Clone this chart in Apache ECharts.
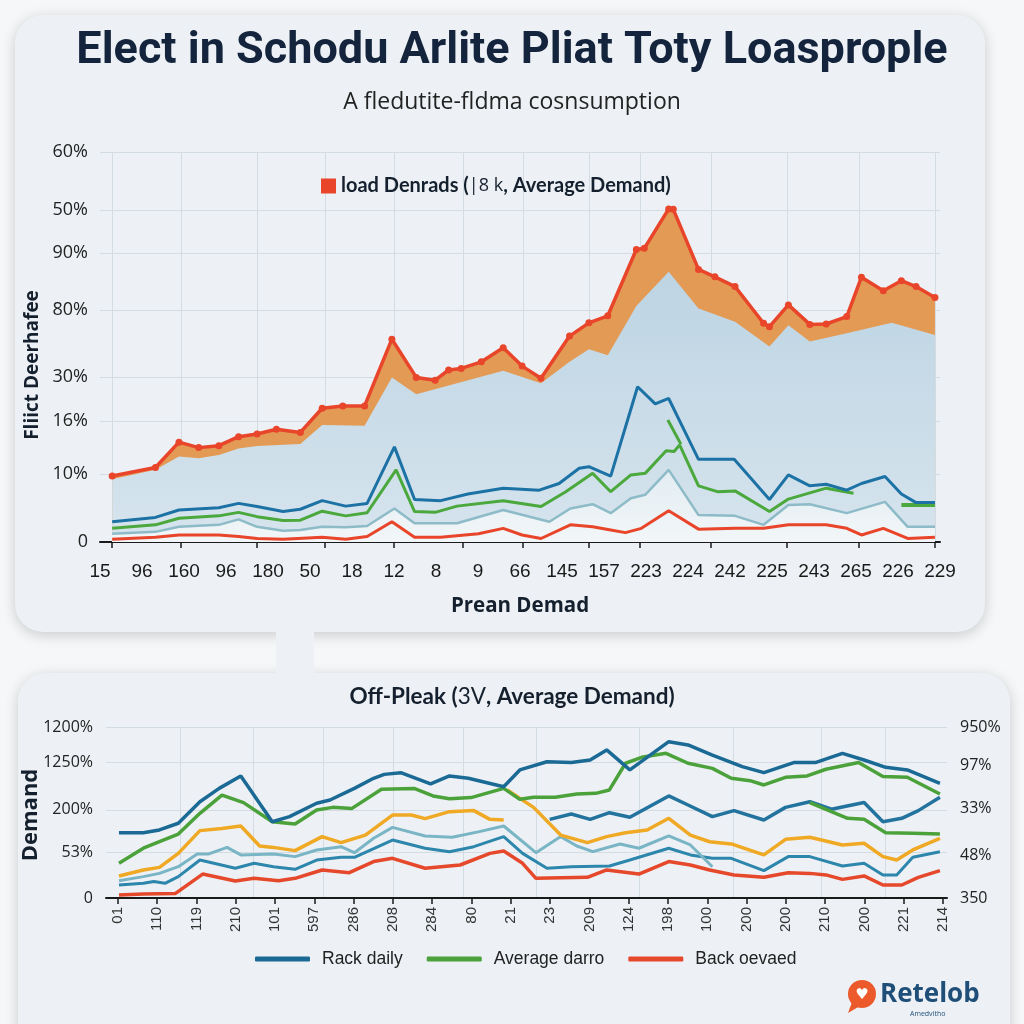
<!DOCTYPE html>
<html><head><meta charset="utf-8">
<script src="https://cdn.jsdelivr.net/npm/echarts@6/dist/echarts.min.js"></script>
<style>html,body{margin:0;padding:0;background:#f6f7f9}#c{width:1024px;height:1024px}</style>
</head><body><div id="c"></div>
<script>
// ---------- TOP CHART DATA ----------
const topCategories = ['15','96','160','96','180','50','18','12','8','9','66','145','157','223','224','242','225','243','265','226','229'];
const topYTickLabels = ['0','10%','16%','30%','80%','90%','50%','60%'];
const topYTickValues = [0, 17.4, 31.0, 42.3, 59.5, 74.1, 85.1, 100];
const topGridX = [0.29, 1.93, 3.74, 5.36, 7.0, 8.64, 10.07, 11.64, 12.86, 14.55, 16.36, 18.07, 19.88];

const topPeakLoad = [[0.29,16.9],[1.32,19.1],[1.88,25.6],[2.35,24.2],[2.83,24.7],[3.30,27.0],[3.74,27.7],[4.20,28.9],[4.77,28.1],[5.29,34.3],[5.78,34.9],[6.30,34.9],[6.95,52.0],[7.53,42.2],[7.98,41.5],[8.30,44.1],[8.60,44.5],[9.08,46.2],[9.60,49.8],[10.05,45.1],[10.50,42.0],[11.18,52.8],[11.64,56.2],[12.09,58.0],[12.77,75.0],[12.96,75.3],[13.54,85.4],[13.65,85.3],[14.25,69.9],[14.64,68.0],[15.12,65.5],[15.80,56.1],[15.94,55.2],[16.39,60.8],[16.90,55.8],[17.29,55.9],[17.78,57.8],[18.13,67.9],[18.65,64.4],[19.08,67.0],[19.43,65.5],[19.88,62.7]];
const topBaseArea = [[0.29,16.1],[1.32,18.5],[1.88,21.9],[2.35,21.5],[2.83,22.3],[3.30,24.0],[3.74,24.6],[4.77,25.1],[5.29,30.0],[6.30,29.8],[6.95,42.2],[7.53,37.9],[9.60,43.9],[10.50,40.7],[11.18,46.2],[11.64,49.4],[12.09,47.9],[12.77,60.5],[13.54,69.3],[14.25,59.9],[15.12,56.5],[15.94,50.1],[16.39,55.6],[16.90,51.4],[17.78,53.5],[18.85,56.2],[19.88,53.1]];
const topBlue = [[0.29,5.2],[1.32,6.3],[1.88,8.2],[2.83,8.8],[3.30,9.9],[3.74,9.1],[4.36,7.8],[4.77,8.4],[5.29,10.6],[5.85,9.2],[6.36,9.9],[7.01,24.4],[7.49,10.9],[8.11,10.6],[8.76,12.3],[9.60,13.8],[10.46,13.3],[10.93,15.0],[11.41,18.9],[11.64,19.3],[12.16,16.9],[12.80,39.8],[13.22,35.4],[13.54,36.8],[14.25,21.2],[15.10,21.2],[15.94,10.9],[16.39,17.2],[16.90,14.4],[17.29,14.8],[17.78,13.3],[18.13,15.0],[18.69,16.8],[19.08,12.3],[19.43,10.1],[19.88,10.1]];
const topGreen = [[0.29,3.5],[1.32,4.4],[1.88,6.1],[2.83,6.7],[3.30,7.6],[3.74,6.5],[4.36,5.5],[4.77,5.6],[5.29,7.9],[5.85,6.7],[6.36,7.5],[7.05,18.5],[7.49,7.8],[7.98,7.6],[8.50,9.2],[9.60,10.6],[10.50,9.1],[11.09,12.9],[11.73,17.6],[12.16,12.9],[12.64,17.2],[12.98,17.6],[13.48,23.4],[13.67,23.2],[13.80,24.9],[14.25,14.4],[14.70,12.9],[15.12,13.1],[15.94,7.8],[16.39,11.0],[17.29,13.8],[17.94,12.5]];
const topGreenSpur = [[13.52,31.3],[13.83,25.1]];
const topGreenTail = [[19.08,9.5],[19.88,9.5]];
const topTeal = [[0.29,2.1],[1.32,2.6],[1.88,3.9],[2.83,4.4],[3.30,5.8],[3.74,3.9],[4.36,2.9],[4.77,3.1],[5.29,3.9],[5.85,3.8],[6.36,4.1],[7.01,8.6],[7.49,4.8],[8.50,4.8],[9.60,8.2],[10.70,5.2],[11.20,8.6],[11.73,9.7],[12.16,7.4],[12.64,11.2],[12.98,12.1],[13.54,18.5],[14.25,6.9],[15.12,6.7],[15.80,4.4],[16.39,9.5],[16.90,9.7],[17.78,7.4],[18.69,10.3],[19.23,3.9],[19.88,3.9]];
const topRed = [[0.29,0.7],[1.32,1.2],[1.88,1.8],[2.83,1.8],[3.30,1.4],[3.74,0.9],[4.36,0.7],[5.29,1.2],[5.85,0.7],[6.36,1.4],[6.95,5.2],[7.49,1.2],[8.11,1.2],[9.01,2.1],[9.60,3.5],[10.05,1.8],[10.50,0.9],[11.20,4.4],[11.73,3.9],[12.16,3.1],[12.51,2.4],[12.89,3.5],[13.54,8.0],[14.25,3.3],[15.12,3.5],[15.80,3.5],[16.39,4.4],[17.29,4.4],[17.78,3.5],[18.13,1.8],[18.65,3.5],[19.23,0.9],[19.88,1.2]];

// ---------- BOTTOM CHART DATA ----------
const bottomCategories = ['01','110','119','210','101','597','286','208','284','80','21','23','209','124','198','100','200','200','210','200','221','214'];
const bottomLeftTickLabels = ['0','53%','200%','1250%','1200%'];
const bottomLeftTickValues = [0, 26.9, 51.5, 79.5, 100];
const bottomRightTickLabels = ['350','48%','33%','97%','950%'];
const bottomRightTickValues = [0, 25.1, 52.6, 77.8, 100];
const bottomGridX = [1.60, 3.44, 5.24, 7.02, 8.78, 10.64, 13.26, 15.65, 17.91, 19.52];

const rackDaily = [[0.03,38.2],[0.65,38.2],[1.06,39.8],[1.54,43.7],[2.09,56.3],[2.58,64.1],[3.13,71.4],[3.93,44.6],[4.37,47.6],[5.06,55.4],[5.40,57.3],[6.02,64.1],[6.51,70.0],[6.78,72.3],[7.20,73.3],[7.96,66.7],[8.44,71.4],[8.92,70.0],[9.82,65.1],[10.23,74.9],[10.92,79.7],[11.54,79.2],[12.02,80.7],[12.44,86.6],[13.03,74.9],[14.02,91.4],[14.51,89.5],[15.13,83.6],[15.89,76.8],[16.44,73.3],[17.20,79.2],[17.75,79.2],[18.44,84.6],[18.99,80.7],[19.54,76.4],[20.09,74.9],[20.92,67.1]];
const averageDarro = [[0.03,20.3],[0.65,29.1],[1.06,32.9],[1.54,37.4],[2.09,49.5],[2.65,60.2],[3.20,55.8],[3.93,44.6],[4.51,43.3],[5.06,51.5],[5.47,53.0],[5.96,52.4],[6.71,63.6],[7.54,64.1],[8.02,59.7],[8.44,58.1],[8.99,58.7],[9.82,64.1],[10.23,57.7],[10.58,58.9],[11.13,58.9],[11.68,60.8],[12.16,61.2],[12.51,63.2],[12.92,78.8],[13.33,82.3],[13.95,84.6],[14.51,78.8],[15.13,75.8],[15.61,70.0],[16.09,68.6],[16.44,66.1],[16.99,70.6],[17.54,71.4],[18.02,75.3],[18.85,79.2],[19.47,71.0],[20.09,70.6],[20.92,60.8]];
const averageDarroLow = [[17.61,55.8],[18.57,46.6],[18.99,46.0],[19.54,38.2],[20.23,37.8],[20.92,37.4]];
const offOrange = [[0.03,12.9],[0.65,16.4],[1.06,17.9],[1.54,26.1],[2.09,39.4],[2.65,40.7],[3.13,42.1],[3.61,30.4],[3.96,29.6],[4.51,27.7],[5.20,35.9],[5.68,32.4],[6.30,36.8],[6.99,48.5],[7.47,48.5],[7.82,46.4],[8.44,50.5],[9.06,51.1],[9.47,46.0],[9.82,45.6],[9.86,null],[9.91,63.2],[10.58,53.0],[11.27,36.8],[11.95,32.4],[12.44,35.9],[12.92,38.2],[13.47,39.8],[14.02,46.6],[14.57,36.8],[15.06,32.9],[15.61,31.6],[16.44,25.2],[16.99,34.3],[17.61,35.5],[18.44,31.0],[18.99,32.0],[19.47,24.2],[19.82,22.2],[20.23,28.1],[20.92,34.9]];
const offBlueMid = [[10.99,46.0],[11.54,49.1],[12.02,46.0],[12.51,49.9],[13.03,47.2],[14.02,59.7],[14.51,54.4],[15.13,47.6],[15.68,51.1],[16.44,45.6],[16.99,53.0],[17.61,56.3],[18.16,51.9],[18.99,55.8],[19.47,44.6],[19.95,46.6],[20.37,51.1],[20.92,58.9]];
const offTealLight = [[0.03,10.1],[0.65,12.5],[1.06,14.4],[1.54,18.3],[2.02,25.7],[2.30,25.7],[2.78,29.6],[3.13,25.2],[3.96,25.7],[4.51,24.2],[5.06,28.1],[5.68,30.0],[6.02,26.5],[6.51,34.9],[6.99,41.3],[7.82,36.3],[8.51,35.5],[9.20,38.8],[9.82,42.1],[10.64,26.5],[11.27,35.9],[11.68,30.4],[12.09,27.1],[12.78,31.6],[13.26,29.1],[14.02,36.3],[14.57,31.0],[15.13,18.3]];
const offTealDark = [[0.03,7.6],[0.65,8.6],[0.92,9.6],[1.20,8.6],[1.54,12.5],[2.09,22.2],[2.99,17.4],[3.47,20.3],[3.96,18.3],[4.51,16.8],[5.06,22.2],[5.68,23.8],[6.02,23.8],[6.99,33.9],[7.82,29.1],[8.44,27.1],[9.06,30.0],[9.82,35.9],[10.30,26.1],[10.92,17.4],[11.54,18.3],[12.51,18.7],[13.03,22.2],[14.02,29.1],[14.57,25.2],[15.13,23.2],[15.61,23.2],[16.44,16.0],[17.06,24.2],[17.61,24.2],[18.44,18.7],[18.99,20.3],[19.47,13.5],[19.82,13.5],[20.23,23.8],[20.92,27.1]];
const backOevaed = [[0.03,1.8],[0.65,2.3],[1.47,2.7],[2.16,14.0],[2.99,9.9],[3.47,11.5],[4.09,10.1],[4.51,11.5],[5.20,16.4],[5.89,14.8],[6.51,21.3],[6.99,23.2],[7.82,17.4],[8.71,19.3],[9.47,26.1],[9.82,27.5],[10.30,20.3],[10.64,11.5],[11.95,12.1],[12.44,16.4],[13.26,14.0],[14.02,21.3],[14.57,19.3],[15.06,16.4],[15.68,13.5],[16.44,12.1],[17.06,14.8],[17.61,14.4],[18.02,13.5],[18.44,10.9],[18.99,12.9],[19.47,7.6],[19.95,7.6],[20.37,12.1],[20.92,16.0]];

// ---------- CHART ----------
const TITLE = 'Elect in Schodu Arlite Pliat Toty Loasprople';
const NARROW = '"Liberation Sans","Arial",sans-serif';
const SANS = '"Open Sans","Noto Sans",sans-serif';
const LATO = 'Lato,"Open Sans",sans-serif';
const topLegendName = 'load Denrads (|8 k, Average Demand)';

// horizontal squeeze so the bold title gets a condensed look at the reference width
function squeezeFor(text, font, targetWidth) {
  const ctx = document.createElement('canvas').getContext('2d');
  ctx.font = font;
  const w = ctx.measureText(text).width;
  return w > 0 ? Math.min(1, targetWidth / w) : 1;
}
const titleScale = squeezeFor(TITLE, 'bold 45px Roboto', 876);

function nearestLabel(values, labels) {
  return function (v) {
    let best = 0;
    for (let i = 1; i < values.length; i++) if (Math.abs(values[i] - v) < Math.abs(values[best] - v)) best = i;
    return labels[best];
  };
}
const range = n => Array.from({length: n}, (_, i) => i);

const chart = echarts.init(document.getElementById('c'), null, {renderer: 'canvas'});
const lineBase = {type: 'line', showSymbol: false, symbol: 'none', silent: true, connectNulls: false};

const option = {
  animation: false,
  backgroundColor: '#f6f7f9',
  title: [
    {text: 'A fledutite-fldma cosnsumption', left: 'center', top: 86,
     textStyle: {fontFamily: SANS, fontSize: 23, fontWeight: 'normal', color: '#222'}},
    {text: '{b|Off-Pleak (}{n|3V}{b|, Average Demand)}', left: 'center', top: 680,
     textStyle: {rich: {b: {fontFamily: LATO, fontSize: 22.5, fontWeight: 'bold', color: '#15202e'},
                        n: {fontFamily: LATO, fontSize: 22.5, fontWeight: 'normal', color: '#15202e'}}}}
  ],
  graphic: [
    {type: 'rect', z: -10, shape: {x: 15, y: 15, width: 970, height: 617, r: 28},
     style: {fill: '#edf1f5', shadowBlur: 14, shadowColor: 'rgba(0,0,0,0.18)', shadowOffsetY: 3}},
    {type: 'rect', z: -10, shape: {x: 18, y: 673, width: 992, height: 400, r: 28},
     style: {fill: '#edf1f5', shadowBlur: 14, shadowColor: 'rgba(0,0,0,0.18)', shadowOffsetY: 3}},
    {type: 'rect', z: -9, shape: {x: 276, y: 620, width: 38, height: 62},
     style: {fill: '#edf1f5'}},
    {type: 'text', z: 10, x: 512, y: 52, scaleX: titleScale,
     style: {text: TITLE, fontFamily: 'Roboto, sans-serif', fontSize: 45, fontWeight: 'bold', fill: '#13243c', align: 'center', verticalAlign: 'middle'}},
    {type: 'text', z: 10, x: 33, y: 365, rotation: Math.PI / 2,
     style: {text: 'Fliict Deerhafee', fontFamily: SANS, fontSize: 19, fontWeight: 'bold', fill: '#15202e', align: 'center', verticalAlign: 'middle'}},
    {type: 'text', z: 10, x: 31, y: 815, rotation: Math.PI / 2,
     style: {text: 'Demand', fontFamily: SANS, fontSize: 22, fontWeight: 'bold', fill: '#15202e', align: 'center', verticalAlign: 'middle'}},
    {type: 'circle', z: 10, shape: {cx: 862, cy: 994, r: 14}, style: {fill: '#ec5a2b'}},
    {type: 'polygon', z: 10, shape: {points: [[852, 1002], [848, 1013], [860, 1006]]}, style: {fill: '#ec5a2b'}},
    {type: 'text', z: 11, x: 862, y: 995, style: {text: '♥', fontSize: 15, fill: '#fff', align: 'center', verticalAlign: 'middle', fontFamily: 'DejaVu Sans'}},
    {type: 'text', z: 10, x: 880, y: 995,
     style: {text: 'Retelob', fontFamily: SANS, fontSize: 26, fontWeight: 'bold', fill: '#1f4e79', verticalAlign: 'middle'}},
    {type: 'text', z: 10, x: 910, y: 1014,
     style: {text: 'Amedvitho', fontFamily: SANS, fontSize: 7, fill: '#1f4e79', verticalAlign: 'middle'}}
  ],
  legend: [
    {data: [{name: topLegendName, icon: 'rect'}], left: 316, top: 171, itemWidth: 15, itemHeight: 15, selectedMode: false,
     formatter: () => '{b|load Denrads (}{n||8 k}{b|, Average Demand)}',
     textStyle: {rich: {b: {fontFamily: LATO, fontSize: 20, fontWeight: 'bold', color: '#15202e'},
                        n: {fontFamily: SANS, fontSize: 18, fontWeight: 'normal', color: '#15202e'}}}},
    {data: ['Rack daily', 'Average darro', 'Back oevaed'], left: 250, top: 945, icon: 'roundRect',
     itemWidth: 55, itemHeight: 5, itemGap: 24, selectedMode: false,
     textStyle: {fontFamily: NARROW, fontSize: 17.5, color: '#222', padding: [0, 0, 0, 7]}}
  ],
  grid: [
    {left: 100, right: 84, top: 152, bottom: 482},
    {left: 106, right: 77, top: 727, bottom: 126}
  ],
  xAxis: [
    {type: 'value', gridIndex: 0, min: 0, max: 20,
     axisLine: {show: true, onZero: false, lineStyle: {color: '#1a1a1a', width: 2}},
     axisTick: {show: true, customValues: topGridX, length: 6, lineStyle: {color: '#1a1a1a', width: 1.5}},
     axisLabel: {customValues: range(topCategories.length), formatter: v => topCategories[Math.round(v)],
                 fontFamily: NARROW, fontSize: 19, color: '#1a1a1a', margin: 20},
     splitLine: {show: true, lineStyle: {color: '#d3dbe3', width: 1}},
     name: 'Prean Demad', nameLocation: 'middle', nameGap: 54,
     nameTextStyle: {fontFamily: SANS, fontSize: 20.5, fontWeight: 'bold', color: '#15202e'}},
    {type: 'value', gridIndex: 1, min: -0.3, max: 21.1,
     axisLine: {show: true, onZero: false, lineStyle: {color: '#1a1a1a', width: 2}},
     axisTick: {show: true, customValues: range(bottomCategories.length), length: 6, lineStyle: {color: '#1a1a1a', width: 1.5}},
     axisLabel: {customValues: range(bottomCategories.length), formatter: v => bottomCategories[Math.round(v)],
                 rotate: 90, fontFamily: NARROW, fontSize: 15, color: '#333', margin: 9},
     splitLine: {show: false}},
    {type: 'value', gridIndex: 1, min: -0.3, max: 21.1, position: 'top',
     axisLine: {show: false}, axisLabel: {show: false},
     axisTick: {show: false, customValues: bottomGridX},
     splitLine: {show: true, lineStyle: {color: '#d3dbe3', width: 1}}}
  ],
  yAxis: [
    {type: 'value', gridIndex: 0, min: 0, max: 100,
     axisLine: {show: false}, axisTick: {show: false, customValues: topYTickValues},
     axisLabel: {customValues: topYTickValues, formatter: nearestLabel(topYTickValues, topYTickLabels),
                 fontFamily: SANS, fontSize: 18, color: '#222', margin: 12},
     splitLine: {show: true, lineStyle: {color: '#d3dbe3', width: 1}}},
    {type: 'value', gridIndex: 1, min: 0, max: 100,
     axisLine: {show: false}, axisTick: {show: false, customValues: bottomLeftTickValues},
     axisLabel: {customValues: bottomLeftTickValues, formatter: nearestLabel(bottomLeftTickValues, bottomLeftTickLabels),
                 fontFamily: SANS, fontSize: 16, color: '#222', margin: 13},
     splitLine: {show: true, lineStyle: {color: '#d3dbe3', width: 1}}},
    {type: 'value', gridIndex: 1, min: 0, max: 100, position: 'right',
     axisLine: {show: false}, axisTick: {show: false, customValues: bottomRightTickValues},
     axisLabel: {customValues: bottomRightTickValues, formatter: nearestLabel(bottomRightTickValues, bottomRightTickLabels),
                 fontFamily: SANS, fontSize: 16, color: '#222', margin: 13},
     splitLine: {show: false}}
  ],
  series: [
    // top chart
    Object.assign({}, lineBase, {name: 'peak-band', xAxisIndex: 0, yAxisIndex: 0, z: 1, data: topPeakLoad,
      lineStyle: {width: 0}, areaStyle: {color: '#e29a55', opacity: 1}}),
    Object.assign({}, lineBase, {name: 'base-area', xAxisIndex: 0, yAxisIndex: 0, z: 1, data: topBaseArea,
      lineStyle: {width: 0}, areaStyle: {opacity: 1, color: new echarts.graphic.LinearGradient(0, 0, 0, 1, [
        {offset: 0, color: '#bdd4e3'}, {offset: 1, color: '#d6e4ed'}])}}),
    Object.assign({}, lineBase, {name: 'top-teal', xAxisIndex: 0, yAxisIndex: 0, z: 2, data: topTeal,
      lineStyle: {width: 2.5, color: '#8dbbc7'}, itemStyle: {color: '#8dbbc7'},
      areaStyle: {opacity: 1, color: new echarts.graphic.LinearGradient(0, 0, 0, 1, [
        {offset: 0, color: '#e2edf2'}, {offset: 1, color: '#f2f6f8'}])}}),
    Object.assign({}, lineBase, {name: 'top-green', xAxisIndex: 0, yAxisIndex: 0, z: 3, data: topGreen,
      lineStyle: {width: 3, color: '#4aa83c'}, itemStyle: {color: '#4aa83c'}}),
    Object.assign({}, lineBase, {name: 'top-green-spur', xAxisIndex: 0, yAxisIndex: 0, z: 3, data: topGreenSpur,
      lineStyle: {width: 3, color: '#4aa83c'}, itemStyle: {color: '#4aa83c'}}),
    Object.assign({}, lineBase, {name: 'top-green-tail', xAxisIndex: 0, yAxisIndex: 0, z: 3, data: topGreenTail,
      lineStyle: {width: 4, color: '#4aa83c'}, itemStyle: {color: '#4aa83c'}}),
    Object.assign({}, lineBase, {name: 'top-blue', xAxisIndex: 0, yAxisIndex: 0, z: 3, data: topBlue,
      lineStyle: {width: 3, color: '#1c72a4'}, itemStyle: {color: '#1c72a4'}}),
    Object.assign({}, lineBase, {name: 'top-red', xAxisIndex: 0, yAxisIndex: 0, z: 3, data: topRed,
      lineStyle: {width: 3, color: '#e8452a'}, itemStyle: {color: '#e8452a'}}),
    {type: 'line', name: topLegendName, xAxisIndex: 0, yAxisIndex: 0, z: 4, data: topPeakLoad,
     symbol: 'circle', symbolSize: 7, showSymbol: true, silent: true,
     lineStyle: {width: 3.5, color: '#e8452a'}, itemStyle: {color: '#e8452a'}},
    // bottom chart
    Object.assign({}, lineBase, {name: 'Back oevaed', xAxisIndex: 1, yAxisIndex: 1, z: 3, data: backOevaed,
      lineStyle: {width: 3.5, color: '#e5482b'}, itemStyle: {color: '#e5482b'}}),
    Object.assign({}, lineBase, {name: 'off-teal-dark', xAxisIndex: 1, yAxisIndex: 1, z: 3, data: offTealDark,
      lineStyle: {width: 3, color: '#2d86ab'}, itemStyle: {color: '#2d86ab'}}),
    Object.assign({}, lineBase, {name: 'off-teal-light', xAxisIndex: 1, yAxisIndex: 1, z: 3, data: offTealLight,
      lineStyle: {width: 3, color: '#79b5c5'}, itemStyle: {color: '#79b5c5'}}),
    Object.assign({}, lineBase, {name: 'off-orange', xAxisIndex: 1, yAxisIndex: 1, z: 3, data: offOrange,
      lineStyle: {width: 3.5, color: '#f0a925'}, itemStyle: {color: '#f0a925'}}),
    Object.assign({}, lineBase, {name: 'off-blue-mid', xAxisIndex: 1, yAxisIndex: 1, z: 3, data: offBlueMid,
      lineStyle: {width: 3.5, color: '#23739f'}, itemStyle: {color: '#23739f'}}),
    Object.assign({}, lineBase, {name: 'Average darro', xAxisIndex: 1, yAxisIndex: 1, z: 3, data: averageDarro,
      lineStyle: {width: 3.5, color: '#4ca23a'}, itemStyle: {color: '#4ca23a'}}),
    Object.assign({}, lineBase, {name: 'average-darro-low', xAxisIndex: 1, yAxisIndex: 1, z: 3, data: averageDarroLow,
      lineStyle: {width: 3.5, color: '#4ca23a'}, itemStyle: {color: '#4ca23a'}}),
    Object.assign({}, lineBase, {name: 'Rack daily', xAxisIndex: 1, yAxisIndex: 1, z: 3, data: rackDaily,
      lineStyle: {width: 3.5, color: '#1b6a95'}, itemStyle: {color: '#1b6a95'}})
  ]
};
chart.setOption(option);
</script></body></html>
